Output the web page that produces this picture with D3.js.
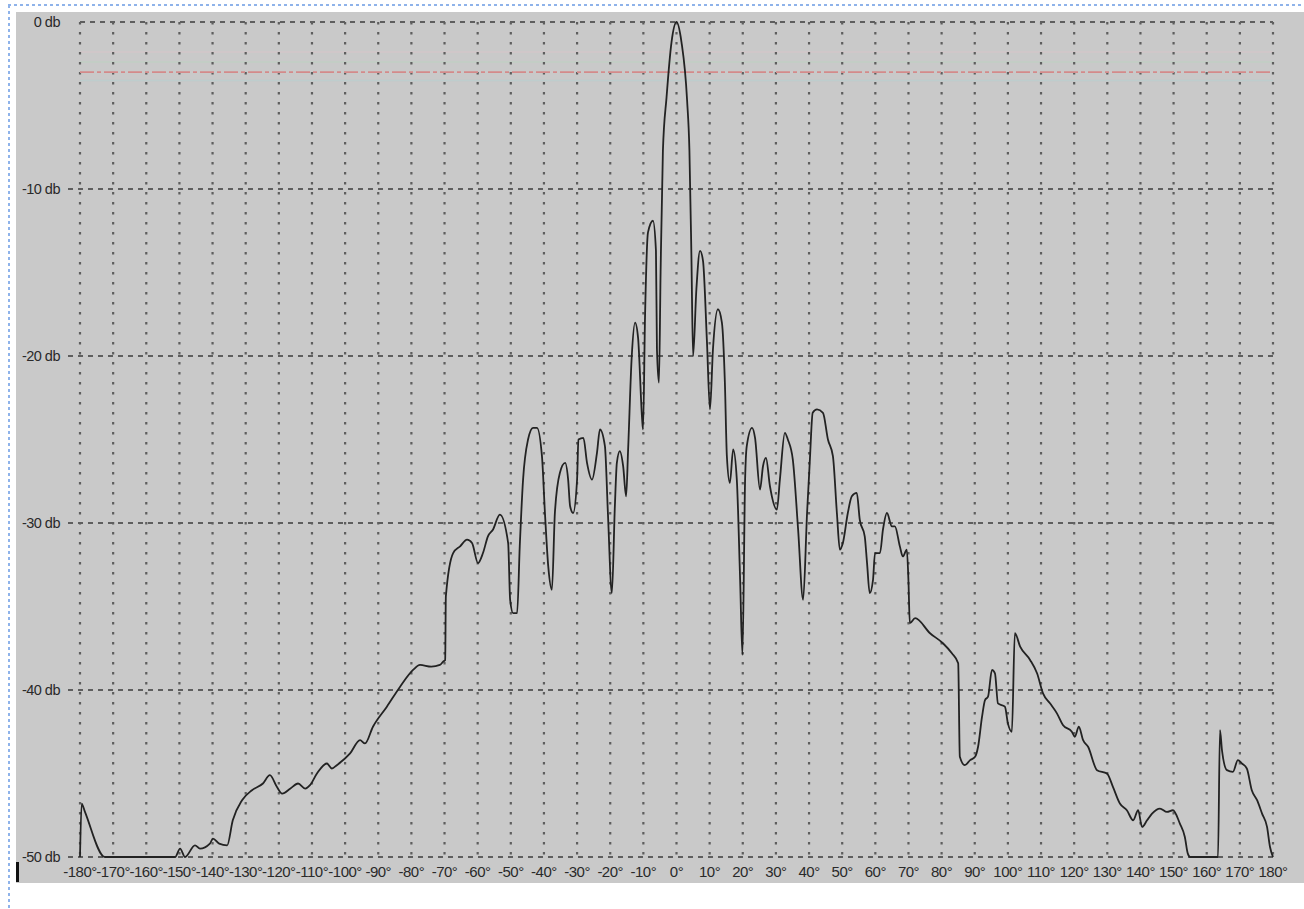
<!DOCTYPE html>
<html>
<head>
<meta charset="utf-8">
<script src="https://cdn.jsdelivr.net/npm/d3@7"></script>
<style>
  html, body { margin: 0; padding: 0; background: #ffffff; }
  svg { display: block; }
</style>
</head>
<body>
<svg id="chart" width="1304" height="909"></svg>
<script>
// ---- data ----
const angleTicks = [-180,-170,-160,-150,-140,-130,-120,-110,-100,-90,-80,-70,-60,-50,-40,-30,-20,-10,0,10,20,30,40,50,60,70,80,90,100,110,120,130,140,150,160,170,180];
const levelTicks = [0,-10,-20,-30,-40,-50];
const referenceLevel = -3;

const angles = [
 -180,-179.5,-178.5,-172.5,-151.3,-149.8,-148.3,-145.3,-143.8,-140.8,-139.9,-138,-135.6,-133.9,-131.1,-128.1,-124.8,-122.7,-120.6,-119,-116.5,-114.2,-112,-110.6,-108.5,-105.5,-104,-102.5,-98.5,-95.5,-94,-91.6,-87.4,-83.4,-79.5,-77.4,-74,-71.4,-70.4,-69.8,-69.6,-67.4,-65.3,-63.2,-61.7,-59.9,-58.4,-56.9,-55.4,-53.3,-50.8,-50.2,-49.3,-48.1,-47.3,-46.3,-44.8,-43.3,-42.1,-40.6,-39.7,-38.7,-37.6,-36.7,-35.2,-33.6,-32.7,-32.1,-31.2,-30.0,-29.6,-28.1,-27.0,-25.5,-24.0,-23.1,-21.6,-20.7,-19.5,-18.6,-18.0,-17.1,-16.1,-15.2,-14.6,-13.5,-12.5,-11.6,-10.4,-10.1,-9.5,-8.6,-7.1,-6.2,-5.9,-5.3,-4.8,-4.1,-3.0,-1.5,0,1.5,3.2,3.9,4.5,5.0,6.0,7.1,8.0,9.2,10.1,11.0,12.5,13.7,14.6,15.2,16.1,17.1,18.2,19.2,19.9,20.7,21.2,22.8,23.7,25.2,26.1,27.0,28.2,30.3,31.2,32.7,33.6,35.1,36.7,38.2,39.4,40.2,41.1,42.4,44.2,45.7,47.2,48.4,49.3,50.2,51.7,52.9,54.4,55.3,56.8,57.5,58.3,59.3,59.9,61.4,62.3,63.5,65.0,65.9,67.4,68.3,69.5,70.0,70.4,72.0,76.5,80.4,83.1,85.0,85.5,87.0,88.6,90.1,91.0,92.2,93.1,94.0,95.2,96.1,97.0,99.1,100.0,101.2,102.1,103.7,106.7,108.8,110.6,112.7,114.8,116.6,119.3,120.2,121.4,122.7,124.2,126.9,129.9,131.7,133.8,135.9,137.8,139.3,140.5,142.0,143.5,145.9,148.0,149.8,151.9,153.4,154.3,155.0,163.4,164.0,164.6,166.1,167.9,169.4,170.6,172.1,173.6,175.2,176.7,178.2,179.1,180
];
const levels = [
 -50,-46.8,-47.3,-50,-50,-49.5,-50,-49.3,-49.5,-49.2,-48.9,-49.2,-49.3,-47.8,-46.6,-46.0,-45.6,-45.1,-45.8,-46.2,-45.9,-45.6,-45.9,-45.7,-45.0,-44.4,-44.7,-44.5,-43.8,-43.0,-43.2,-42.2,-41.0,-39.8,-38.8,-38.5,-38.6,-38.5,-38.3,-38.2,-34.4,-31.8,-31.4,-31.0,-31.2,-32.4,-31.8,-30.8,-30.4,-29.5,-31.2,-34.6,-35.4,-35.4,-31.4,-27.4,-25.0,-24.3,-24.3,-26.0,-29.4,-32.6,-34.0,-29.4,-27.0,-26.4,-27.4,-29.0,-29.4,-27.4,-25.0,-24.9,-26.4,-27.4,-25.8,-24.4,-25.4,-29.4,-34.2,-29.0,-26.4,-25.7,-26.6,-28.4,-25.6,-20.0,-18.0,-18.9,-23.7,-24.4,-17.7,-12.6,-11.9,-13.7,-19.6,-21.6,-15.0,-7.7,-4.5,-1.2,0,-1.2,-4.7,-7.7,-14.0,-20.0,-16.0,-13.7,-14.3,-19.2,-23.2,-19.6,-17.2,-18.0,-21.6,-26.0,-27.6,-25.6,-27.4,-33.4,-37.9,-27.4,-25.4,-24.3,-24.9,-28.0,-26.6,-26.1,-27.8,-29.2,-27.4,-24.6,-25.0,-26.2,-30.4,-34.6,-29.4,-26.4,-23.4,-23.2,-23.4,-25.0,-26.0,-29.4,-31.6,-31.2,-29.4,-28.4,-28.2,-29.8,-30.8,-32.4,-34.2,-33.4,-31.8,-31.8,-30.4,-29.4,-30.2,-30.2,-31.4,-32.0,-31.6,-33.5,-36.0,-35.7,-36.6,-37.2,-37.8,-38.4,-44.0,-44.5,-44.2,-44.0,-43.4,-41.6,-40.6,-40.4,-38.8,-39.0,-40.8,-41.0,-42.0,-42.5,-36.6,-37.4,-38.2,-39.0,-40.2,-40.8,-41.4,-42.1,-42.5,-42.8,-42.2,-43.0,-43.4,-44.8,-45.0,-45.8,-46.8,-47.2,-47.8,-47.2,-48.2,-47.8,-47.4,-47.1,-47.3,-47.2,-48.0,-48.8,-49.8,-50,-50,-42.4,-43.6,-44.8,-44.9,-44.2,-44.4,-44.7,-46.0,-46.6,-47.4,-48.2,-49.4,-50
];

// ---- drawing ----
const svg = d3.select("#chart");
const W = 1304, H = 909;

const x = d3.scaleLinear().domain([-180, 180]).range([80, 1273]);
const y = d3.scaleLinear().domain([0, -50]).range([22, 857]);

// outer dotted selection border
svg.append("line").attr("x1", 8).attr("x2", W).attr("y1", 5).attr("y2", 5)
  .attr("stroke", "#8fb3ea").attr("stroke-width", 2).attr("stroke-dasharray", "3,3");
svg.append("line").attr("x1", 9).attr("x2", 9).attr("y1", 5).attr("y2", H)
  .attr("stroke", "#8fb3ea").attr("stroke-width", 2).attr("stroke-dasharray", "3,3");

// gray panel
svg.append("rect").attr("x", 16).attr("y", 12).attr("width", W - 16).attr("height", 871)
  .attr("fill", "#c9c9c9");

// small black bar at bottom-left
svg.append("rect").attr("x", 16).attr("y", 862).attr("width", 3).attr("height", 20).attr("fill", "#111");

// faint reference artifacts around -3 db
const faint = [
  {v: -1.8, c: "#d8c4c8"},
  {v: -2.4, c: "#bcd2c0"},
  {v: -3.5, c: "#b8d0d0"}
];
faint.forEach(f => {
  svg.append("line").attr("x1", x(-180)).attr("x2", x(180))
    .attr("y1", y(f.v)).attr("y2", y(f.v))
    .attr("stroke", f.c).attr("stroke-width", 1.5).attr("opacity", 0.6);
});

// vertical dotted grid
const grid = svg.append("g");
grid.selectAll("line.v").data(angleTicks).join("line")
  .attr("class", "v")
  .attr("x1", d => x(d)).attr("x2", d => x(d))
  .attr("y1", y(0)).attr("y2", y(-50))
  .attr("stroke", "#5e5e5e").attr("stroke-width", 2.2)
  .attr("stroke-dasharray", "2.5,7.5");

// horizontal dashed grid
grid.selectAll("line.h").data(levelTicks).join("line")
  .attr("class", "h")
  .attr("x1", d => d === 0 ? x(-180) : 68).attr("x2", x(180))
  .attr("y1", d => y(d)).attr("y2", d => y(d))
  .attr("stroke", "#5e5e5e").attr("stroke-width", 2)
  .attr("stroke-dasharray", "5,5");

// red -3 db reference line
svg.append("line").attr("x1", x(-180)).attr("x2", x(180))
  .attr("y1", y(referenceLevel)).attr("y2", y(referenceLevel))
  .attr("stroke", "#d48a8a").attr("stroke-width", 1.6)
  .attr("stroke-dasharray", "14,3,4,3");

// y labels
svg.append("g").selectAll("text").data(levelTicks).join("text")
  .attr("x", 60).attr("y", d => y(d)).attr("dy", "0.35em")
  .attr("text-anchor", "end")
  .attr("font-family", "Liberation Sans Narrow, Liberation Sans, Arial, sans-serif")
  .attr("font-size", 14.5).attr("fill", "#2a2a2a")
  .attr("letter-spacing", "-0.5")
  .text(d => d + " db");

// x labels
svg.append("g").selectAll("text").data(angleTicks).join("text")
  .attr("x", d => x(d)).attr("y", 872).attr("dy", "0.35em")
  .attr("text-anchor", "middle")
  .attr("font-family", "Liberation Sans Narrow, Liberation Sans, Arial, sans-serif")
  .attr("font-size", 15).attr("fill", "#2a2a2a")
  .attr("letter-spacing", "-0.5")
  .text(d => d + "°");

// curve
const pts = angles.map((a, i) => [a, levels[i]]);
const line = d3.line().x(d => x(d[0])).y(d => y(d[1])).curve(d3.curveMonotoneX);
svg.append("path").datum(pts)
  .attr("d", line)
  .attr("fill", "none")
  .attr("stroke", "#222")
  .attr("stroke-width", 1.8)
  .attr("stroke-linejoin", "round");
</script>
</body>
</html>
